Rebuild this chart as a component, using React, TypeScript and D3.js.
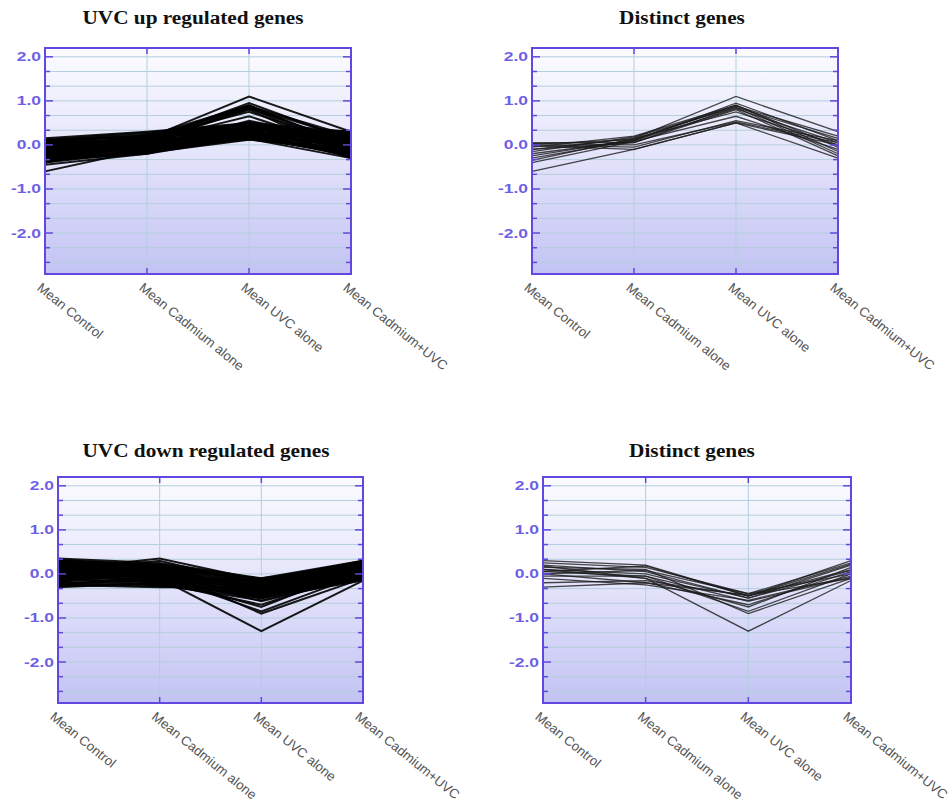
import React from "react";
import * as d3 from "d3";

const categories = ["Mean Control", "Mean Cadmium alone", "Mean UVC alone", "Mean Cadmium+UVC"];
const yTickLabels = [2, 1, 0, -1, -2];

// Distinct genes, UVC up regulated (Control, Cadmium, UVC, Cadmium+UVC)
const distinctUp: number[][] = [
  [-0.1, 0.15, 1.1, 0.3],
  [-0.2, 0.1, 0.95, 0.1],
  [-0.05, 0.2, 0.9, -0.05],
  [0.02, 0.12, 0.88, 0.2],
  [-0.15, 0.18, 0.85, -0.2],
  [-0.3, 0.1, 0.82, 0.05],
  [0.05, 0.05, 0.8, -0.25],
  [-0.35, 0.15, 0.75, 0.0],
  [-0.4, 0.08, 0.65, -0.1],
  [-0.6, -0.1, 0.5, -0.3],
  [0.0, -0.05, 0.55, 0.1],
  [-0.02, -0.1, 0.5, 0.0],
  [0.03, 0.0, 0.52, 0.05],
  [-0.1, 0.05, 0.85, 0.15],
  [-0.25, 0.12, 0.9, -0.15],
];

// Remaining UVC up regulated genes (dense band)
const otherUp: number[][] = [
  [0.15, 0.3, 0.5, 0.3],
  [0.12, 0.28, 0.45, 0.25],
  [0.1, 0.25, 0.48, 0.2],
  [0.08, 0.2, 0.42, 0.28],
  [0.05, 0.22, 0.4, 0.15],
  [0.03, 0.15, 0.38, 0.1],
  [0.0, 0.18, 0.35, 0.22],
  [-0.02, 0.1, 0.33, 0.05],
  [-0.05, 0.12, 0.3, 0.0],
  [-0.08, 0.05, 0.28, 0.12],
  [-0.1, 0.08, 0.25, -0.05],
  [-0.12, 0.0, 0.22, 0.08],
  [-0.15, 0.03, 0.2, -0.1],
  [-0.18, -0.05, 0.18, 0.02],
  [-0.2, -0.02, 0.15, -0.15],
  [-0.22, -0.1, 0.13, -0.08],
  [-0.25, -0.08, 0.16, -0.2],
  [-0.28, -0.12, 0.2, -0.25],
  [-0.3, -0.15, 0.14, -0.3],
  [-0.33, -0.18, 0.12, -0.12],
  [-0.35, -0.2, 0.18, -0.22],
  [-0.38, -0.1, 0.22, -0.18],
  [-0.4, -0.15, 0.25, -0.05],
  [-0.45, -0.2, 0.3, -0.28],
  [0.1, -0.05, 0.35, -0.2],
  [-0.3, 0.25, 0.45, 0.1],
  [0.05, -0.15, 0.2, 0.25],
  [-0.2, 0.2, 0.5, -0.1],
  [-0.1, 0.15, 0.4, 0.3],
  [0.0, -0.1, 0.25, -0.25],
  [-0.25, 0.05, 0.38, 0.05],
  [-0.05, 0.02, 0.3, 0.18],
  [-0.15, 0.12, 0.42, -0.02],
  [-0.32, 0.0, 0.28, 0.14],
  [0.08, 0.1, 0.18, -0.15],
  [-0.12, -0.06, 0.22, 0.2],
  [-0.4, 0.02, 0.35, -0.12],
  [0.12, 0.2, 0.3, -0.05],
  [-0.18, 0.22, 0.46, 0.24],
  [-0.28, -0.04, 0.16, 0.06],
];

// Distinct genes, UVC down regulated
const distinctDown: number[][] = [
  [0.1, -0.1, -1.3, -0.15],
  [0.3, 0.2, -0.5, 0.3],
  [0.25, 0.15, -0.45, 0.25],
  [0.2, 0.05, -0.55, 0.2],
  [0.15, 0.1, -0.9, -0.1],
  [0.05, -0.05, -0.85, 0.0],
  [0.0, -0.2, -0.7, 0.05],
  [-0.1, -0.25, -0.6, -0.05],
  [-0.2, -0.15, -0.5, 0.1],
  [-0.3, -0.2, -0.48, -0.1],
  [0.1, 0.0, -0.55, 0.08],
  [0.05, 0.18, -0.5, 0.22],
  [-0.05, -0.05, -0.62, -0.08],
  [0.0, 0.08, -0.45, 0.0],
  [0.18, -0.1, -0.75, 0.15],
];

// Remaining UVC down regulated genes (dense band)
const otherDown: number[][] = [
  [0.35, 0.25, -0.1, 0.3],
  [0.32, 0.2, -0.15, 0.25],
  [0.3, 0.22, -0.12, 0.28],
  [0.28, 0.15, -0.2, 0.2],
  [0.25, 0.18, -0.18, 0.22],
  [0.22, 0.1, -0.25, 0.15],
  [0.2, 0.12, -0.22, 0.18],
  [0.18, 0.05, -0.3, 0.1],
  [0.15, 0.08, -0.28, 0.12],
  [0.12, 0.0, -0.35, 0.05],
  [0.1, 0.02, -0.32, 0.08],
  [0.08, -0.05, -0.38, 0.0],
  [0.05, -0.02, -0.4, 0.02],
  [0.02, -0.1, -0.42, -0.05],
  [0.0, -0.08, -0.45, -0.02],
  [-0.03, -0.15, -0.48, -0.08],
  [-0.06, -0.12, -0.5, -0.1],
  [-0.1, -0.2, -0.52, -0.12],
  [-0.14, -0.18, -0.55, -0.15],
  [-0.18, -0.25, -0.4, -0.1],
  [-0.22, -0.28, -0.35, -0.05],
  [-0.25, -0.3, -0.3, 0.0],
  [-0.28, -0.22, -0.45, -0.12],
  [0.3, -0.1, -0.3, 0.1],
  [-0.2, 0.2, -0.2, 0.25],
  [0.1, 0.35, -0.15, 0.3],
  [0.05, 0.3, -0.25, 0.2],
  [0.2, -0.2, -0.5, -0.1],
  [-0.1, 0.1, -0.1, 0.15],
  [0.25, 0.0, -0.2, -0.05],
  [0.15, -0.25, -0.55, 0.05],
  [-0.15, 0.05, -0.3, 0.28],
  [0.0, 0.15, -0.42, -0.1],
  [0.28, 0.05, -0.35, 0.22],
  [-0.05, -0.18, -0.15, 0.1],
  [0.12, 0.22, -0.48, 0.0],
  [-0.25, -0.1, -0.25, 0.18],
  [0.18, -0.15, -0.12, 0.05],
  [0.06, 0.12, -0.38, 0.26],
  [-0.12, 0.0, -0.5, -0.08],
];

const Y_DOMAIN: [number, number] = [-2.93, 2.2];
const GRID_STEP = 1 / 3;

type PanelProps = {
  id: string;
  title: string;
  x0: number;
  x1: number;
  y0: number;
  y1: number;
  titleX: number;
  titleY: number;
  lines: number[][];
  dense: boolean;
};

function Panel(p: PanelProps) {
  const x = d3.scalePoint<string>().domain(categories).range([p.x0, p.x1]);
  const y = d3.scaleLinear().domain(Y_DOMAIN).range([p.y1, p.y0]);
  const gridVals: number[] = [];
  for (let i = 0; ; i++) {
    const v = 2 - i * GRID_STEP;
    if (v < Y_DOMAIN[0]) break;
    gridVals.push(v);
  }
  const line = d3
    .line<number>()
    .x((_, i) => x(categories[i]) as number)
    .y((d) => y(d));
  const border = "#6247e0";
  const isMajor = (v: number) => Math.abs(v - Math.round(v)) < 1e-6;
  return (
    <g>
      <defs>
        <linearGradient id={`bg-${p.id}`} x1="0" y1="0" x2="0" y2="1">
          <stop offset="0" stopColor="#fbfbff" />
          <stop offset="0.45" stopColor="#e5e5fb" />
          <stop offset="1" stopColor="#c3c3f4" />
        </linearGradient>
      </defs>
      <text
        transform={`translate(${p.titleX},${p.titleY}) scale(1.12,1)`}
        textAnchor="middle"
        fontFamily="'Liberation Serif', 'Times New Roman', serif"
        fontWeight="bold"
        fontSize={19}
        fill="#111"
      >
        {p.title}
      </text>
      <rect x={p.x0} y={p.y0} width={p.x1 - p.x0} height={p.y1 - p.y0} fill={`url(#bg-${p.id})`} />
      {gridVals.map((v) => (
        <line key={`g${v}`} x1={p.x0} x2={p.x1} y1={y(v)} y2={y(v)} stroke="#b3cfdc" strokeWidth={1} />
      ))}
      {categories.slice(1, -1).map((c) => (
        <line key={`v${c}`} x1={x(c)} x2={x(c)} y1={p.y0} y2={p.y1} stroke="#b3cfdc" strokeWidth={1} />
      ))}
      <g>
        {p.lines.map((l, i) => (
          <path
            key={i}
            d={line(l) as string}
            fill="none"
            stroke={p.dense ? "#000" : "#1a1a1a"}
            strokeOpacity={p.dense ? 0.9 : 0.8}
            strokeWidth={p.dense ? 2 : 1.3}
          />
        ))}
      </g>
      {gridVals.map((v) => {
        const len = isMajor(v) ? 8 : 5;
        return (
          <g key={`t${v}`}>
            <line x1={p.x0} x2={p.x0 + len} y1={y(v)} y2={y(v)} stroke={border} strokeWidth={1.5} />
            <line x1={p.x1} x2={p.x1 - len} y1={y(v)} y2={y(v)} stroke={border} strokeWidth={1.5} />
          </g>
        );
      })}
      {categories.map((c) => (
        <g key={`xt${c}`}>
          <line x1={x(c)} x2={x(c)} y1={p.y0} y2={p.y0 + 6} stroke={border} strokeWidth={1.5} />
          <line x1={x(c)} x2={x(c)} y1={p.y1} y2={p.y1 - 6} stroke={border} strokeWidth={1.5} />
        </g>
      ))}
      <rect
        x={p.x0}
        y={p.y0}
        width={p.x1 - p.x0}
        height={p.y1 - p.y0}
        fill="none"
        stroke={border}
        strokeWidth={2}
      />
      {yTickLabels.map((v) => (
        <text
          key={`yl${v}`}
          transform={`translate(${p.x0 - 4},${y(v)}) scale(1.4,1)`}
          dy="0.36em"
          textAnchor="end"
          fontFamily="'Liberation Sans', Arial, sans-serif"
          fontWeight="bold"
          fontSize={12.5}
          fill="#6f5fe6"
        >
          {v.toFixed(1)}
        </text>
      ))}
      {categories.map((c) => (
        <text
          key={`xl${c}`}
          transform={`translate(${(x(c) as number) - 3},${p.y1 + 8}) rotate(39)`}
          dy="0.7em"
          fontFamily="'Liberation Sans', Arial, sans-serif"
          fontSize={13.3}
          fill="#555"
        >
          {c}
        </text>
      ))}
    </g>
  );
}

export default function App() {
  return (
    <div style={{ position: "absolute", left: 0, top: 0 }}>
      <svg width={952} height={801} style={{ display: "block", background: "#fff" }}>
        <Panel
          id="tl"
          title="UVC up regulated genes"
          x0={45}
          x1={351}
          y0={48}
          y1={274}
          titleX={193}
          titleY={24}
          lines={[...otherUp, ...distinctUp]}
          dense={true}
        />
        <Panel
          id="tr"
          title="Distinct genes"
          x0={532}
          x1={838}
          y0={48}
          y1={274}
          titleX={682}
          titleY={24}
          lines={distinctUp}
          dense={false}
        />
        <Panel
          id="bl"
          title="UVC down regulated genes"
          x0={58}
          x1={363}
          y0={477}
          y1={703}
          titleX={206}
          titleY={457}
          lines={[...otherDown, ...distinctDown]}
          dense={true}
        />
        <Panel
          id="br"
          title="Distinct genes"
          x0={543}
          x1={851}
          y0={477}
          y1={703}
          titleX={692}
          titleY={457}
          lines={distinctDown}
          dense={false}
        />
      </svg>
    </div>
  );
}
